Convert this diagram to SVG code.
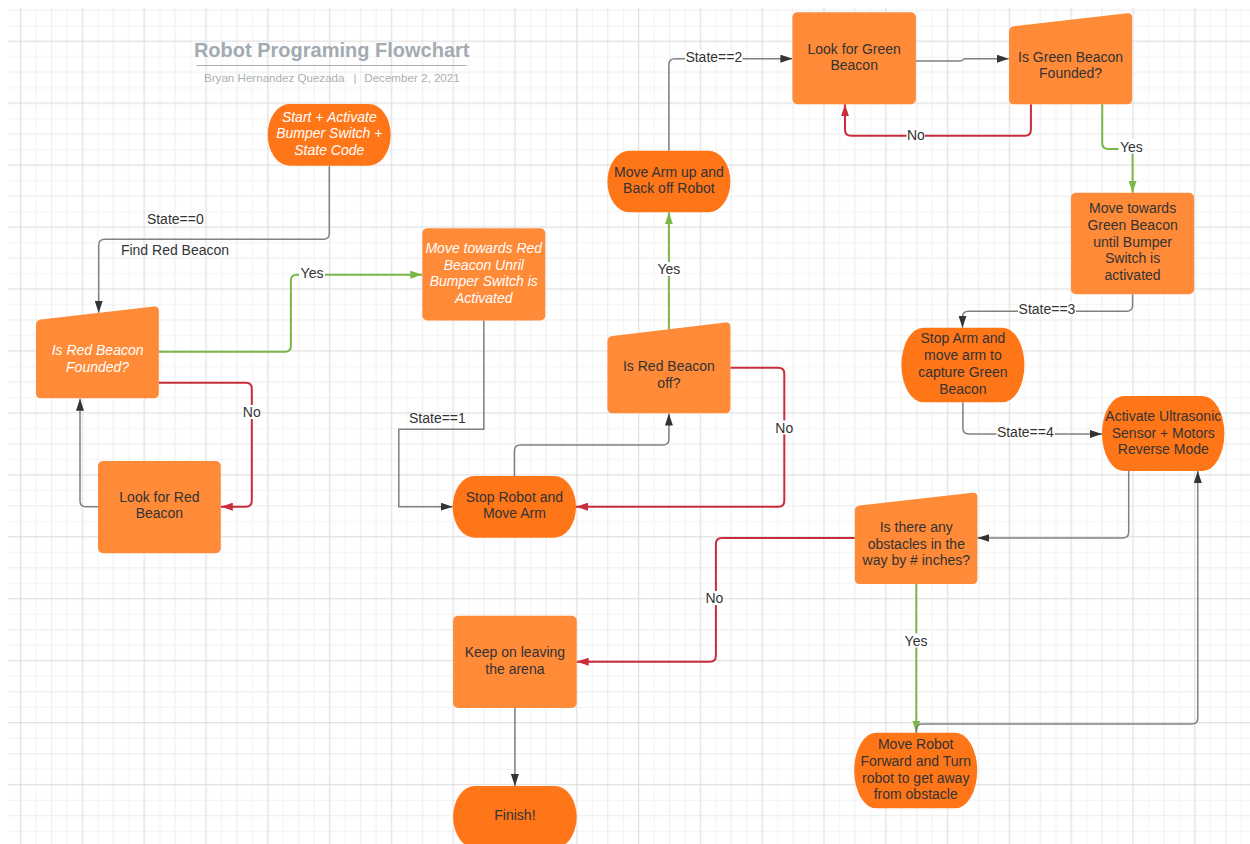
<svg xmlns="http://www.w3.org/2000/svg" width="1250" height="844" viewBox="0 0 1250 844">
<style>
.t{font-family:"Liberation Sans",Arial,sans-serif;font-size:14px;fill:#333;text-anchor:middle}
.w{fill:#fff;font-style:italic}
.box{fill:#FF8A38}
.term{fill:#FF7619}
.g{fill:none;stroke:#808080;stroke-width:1.5;marker-end:url(#ag)}
.r{fill:none;stroke:#C92D39;stroke-width:2;marker-end:url(#ar)}
.gr{fill:none;stroke:#7AB648;stroke-width:2;marker-end:url(#agr)}
.lb{fill:#fff}
</style>
<defs>
<pattern id="grid" patternUnits="userSpaceOnUse" x="12.975" y="33.56" width="61.8" height="61.95">
<path d="M23.175,0V61.95M54.075,0V61.95M0,23.23H61.8M0,54.21H61.8" stroke="#f2f2f2" stroke-width="1"/>
<path d="M38.625,0V61.95M0,38.72H61.8" stroke="#ececec" stroke-width="1"/>
<path d="M7.725,0V61.95M0,7.74H61.8" stroke="#dadada" stroke-width="1"/>
</pattern>
<marker id="ag" markerUnits="userSpaceOnUse" viewBox="0 0 12 8" markerWidth="12" markerHeight="8" refX="12" refY="4" orient="auto"><path d="M0,0L12,4L0,8z" fill="#333"/></marker>
<marker id="ar" markerUnits="userSpaceOnUse" viewBox="0 0 12 8" markerWidth="12" markerHeight="8" refX="12" refY="4" orient="auto"><path d="M0,0L12,4L0,8z" fill="#C92D39"/></marker>
<marker id="agr" markerUnits="userSpaceOnUse" viewBox="0 0 12 8" markerWidth="12" markerHeight="8" refX="12" refY="4" orient="auto"><path d="M0,0L12,4L0,8z" fill="#7AB648"/></marker>
</defs>
<rect width="1250" height="844" fill="#fff"/>
<rect x="8" y="8" width="1242" height="836" fill="url(#grid)"/>

<g id="title">
<text x="331.7" y="57" style="font-family:'Liberation Sans',Arial,sans-serif;font-size:20px;font-weight:bold;fill:#A2AAB2" text-anchor="middle">Robot Programing Flowchart</text>
<line x1="196.5" y1="65.5" x2="466.7" y2="65.5" stroke="#A9B0B8" stroke-width="1"/>
<g style="font-family:'Liberation Sans',Arial,sans-serif;font-size:11.6px;fill:#A9B0B6">
<text x="204" y="82">Bryan Hernandez Quezada</text>
<text x="355" y="82" text-anchor="middle">|</text>
<text x="364.3" y="82">December 2, 2021</text>
</g>
</g>

<g id="connectors">
<path class="g" d="M329.3,166 V233.3 Q329.3,239.3 323.3,239.3 H104.7 Q98.7,239.3 98.7,245.3 V312.8"/>
<path class="gr" d="M158.8,351.7 H284.9 Q290.9,351.7 290.9,345.7 V280.7 Q290.9,274.7 296.9,274.7 H422.3"/>
<path class="r" d="M158.8,382.7 H245.8 Q251.8,382.7 251.8,388.7 V500.7 Q251.8,506.7 245.8,506.7 H220.8"/>
<path class="g" d="M98,506.7 H86 Q80,506.7 80,500.7 V398.8"/>
<path class="g" d="M483.8,320.5 V429.3 H398.8 V506.7 H452.7"/>
<path class="g" d="M514.4,476 V451 Q514.4,445 520.4,445 H662.9 Q668.9,445 668.9,439 V413.5"/>
<path class="r" d="M730.4,367.7 H778.3 Q784.3,367.7 784.3,373.7 V500.7 Q784.3,506.7 778.3,506.7 H576"/>
<path class="gr" d="M668.9,329.3 V212.3"/>
<path class="g" d="M668.9,150.7 V64.7 Q668.9,58.7 674.9,58.7 H792.4"/>
<path class="g" d="M915.9,61 H960.5 Q962,61 962.6,59.9 Q963.2,58.7 964.7,58.7 H1008.8"/>
<path class="r" d="M1030.9,104.3 V129.7 Q1030.9,135.7 1024.9,135.7 H851 Q845,135.7 845,129.7 V104.3"/>
<path class="gr" d="M1102.2,104.3 V143 Q1102.2,149 1108.2,149 H1126.6 Q1132.6,149 1132.6,155 V192.7"/>
<path class="g" d="M1132.6,294.3 V305.3 Q1132.6,311.3 1126.6,311.3 H968.5 Q962.5,311.3 962.5,317.3 V327.7"/>
<path class="g" d="M962.9,402.3 V428 Q962.9,434 968.9,434 H1102"/>
<path class="g" d="M1128.7,471 V532 Q1128.7,538 1122.7,538 H977.4"/>
<path class="r" d="M854.8,538 H721.9 Q715.9,538 715.9,544 V655.7 Q715.9,661.7 709.9,661.7 H576.7"/>
<path class="gr" d="M916.3,584 V732.7"/>
<path class="g" d="M916.3,732.7 V730 Q916.3,724 922.3,724 H1191.8 Q1197.8,724 1197.8,718 V471"/>
<path class="g" d="M514.9,708 V786"/>
<rect class="lb" x="299" y="266" width="26" height="14"/>
<rect class="lb" x="242.5" y="405" width="18.5" height="14"/>
<rect class="lb" x="775" y="420.5" width="18.5" height="14"/>
<rect class="lb" x="656.5" y="262" width="25" height="14"/>
<rect class="lb" x="685" y="50" width="57.5" height="14"/>
<rect class="lb" x="906.5" y="128" width="18.5" height="14"/>
<rect class="lb" x="1118.5" y="139.5" width="26" height="14"/>
<rect class="lb" x="1018" y="302" width="58" height="14"/>
<rect class="lb" x="996.5" y="425" width="58" height="14"/>
<rect class="lb" x="705" y="591" width="18.5" height="14"/>
<rect class="lb" x="903.5" y="633.5" width="25" height="14"/>
<text class="t" x="175.3" y="224">State==0</text>
<text class="t" x="175" y="255">Find Red Beacon</text>
<text class="t" x="312" y="278">Yes</text>
<text class="t" x="251.8" y="417.3">No</text>
<text class="t" x="437.4" y="423.3">State==1</text>
<text class="t" x="784.3" y="432.7">No</text>
<text class="t" x="668.9" y="274.3">Yes</text>
<text class="t" x="713.8" y="62.3">State==2</text>
<text class="t" x="915.9" y="140">No</text>
<text class="t" x="1131.3" y="151.7">Yes</text>
<text class="t" x="1047" y="314">State==3</text>
<text class="t" x="1025.3" y="437.3">State==4</text>
<text class="t" x="714.4" y="603.3">No</text>
<text class="t" x="916" y="645.7">Yes</text>
</g>

<g id="start">
<rect class="term" x="267.7" y="104" width="123" height="61.7" rx="22" ry="30.85"/>
<text class="t w" x="329.3" y="121.7">Start + Activate</text>
<text class="t w" x="329.3" y="138.3">Bumper Switch +</text>
<text class="t w" x="329.3" y="155">State Code</text>
</g>

<g id="is-red-founded">
<path class="box" d="M36,325 Q36,320 41,319.43 L153.8,306.57 Q158.8,306 158.8,311 L158.8,393.3 Q158.8,398.3 153.8,398.3 L41,398.3 Q36,398.3 36,393.3 Z"/>
<text class="t w" x="97.6" y="355.3">Is Red Beacon</text>
<text class="t w" x="97.6" y="372">Founded?</text>
</g>

<g id="look-red">
<rect class="box" x="98" y="461" width="122.8" height="92.3" rx="5"/>
<text class="t" x="159.4" y="502">Look for Red</text>
<text class="t" x="159.4" y="518.3">Beacon</text>
</g>

<g id="move-red">
<rect class="box" x="422.3" y="228.3" width="123" height="92.2" rx="5"/>
<text class="t w" x="483.8" y="253">Move towards Red</text>
<text class="t w" x="483.8" y="269.5">Beacon Unril</text>
<text class="t w" x="483.8" y="286">Bumper Switch is</text>
<text class="t w" x="483.8" y="302.5">Activated</text>
</g>

<g id="stop-robot">
<rect class="term" x="452.7" y="476" width="123.3" height="61.7" rx="22" ry="30.85"/>
<text class="t" x="514.4" y="502">Stop Robot and</text>
<text class="t" x="514.4" y="518.3">Move Arm</text>
</g>

<g id="is-red-off">
<path class="box" d="M607.4,341.7 Q607.4,336.7 612.4,336.1 L725.4,322.6 Q730.4,322 730.4,327 L730.4,408.3 Q730.4,413.3 725.4,413.3 L612.4,413.3 Q607.4,413.3 607.4,408.3 Z"/>
<text class="t" x="668.9" y="371">Is Red Beacon</text>
<text class="t" x="668.9" y="387.7">off?</text>
</g>

<g id="move-arm-up">
<rect class="term" x="607.4" y="150.7" width="123" height="61.6" rx="22" ry="30.8"/>
<text class="t" x="668.9" y="176.7">Move Arm up and</text>
<text class="t" x="668.9" y="193.3">Back off Robot</text>
</g>

<g id="look-green">
<rect class="box" x="792.4" y="12.3" width="123.5" height="92" rx="5"/>
<text class="t" x="854.2" y="53.7">Look for Green</text>
<text class="t" x="854.2" y="70.3">Beacon</text>
</g>

<g id="is-green-founded">
<path class="box" d="M1009,31.7 Q1009,26.7 1014,26.13 L1127.1,13.27 Q1132.1,12.7 1132.1,17.7 L1132.1,99.3 Q1132.1,104.3 1127.1,104.3 L1014,104.3 Q1009,104.3 1009,99.3 Z"/>
<text class="t" x="1070.6" y="62">Is Green Beacon</text>
<text class="t" x="1070.6" y="78.3">Founded?</text>
</g>

<g id="move-green">
<rect class="box" x="1071" y="192.7" width="123.1" height="101.6" rx="5"/>
<text class="t" x="1132.6" y="213">Move towards</text>
<text class="t" x="1132.6" y="229.8">Green Beacon</text>
<text class="t" x="1132.6" y="246.5">until Bumper</text>
<text class="t" x="1132.6" y="263.3">Switch is</text>
<text class="t" x="1132.6" y="280">activated</text>
</g>

<g id="stop-arm">
<rect class="term" x="901.4" y="327.7" width="123" height="74.6" rx="22" ry="37.3"/>
<text class="t" x="962.9" y="343.3">Stop Arm and</text>
<text class="t" x="962.9" y="360">move arm to</text>
<text class="t" x="962.9" y="377">capture Green</text>
<text class="t" x="962.9" y="393.7">Beacon</text>
</g>

<g id="activate">
<rect class="term" x="1102" y="396" width="122.4" height="75" rx="22" ry="37.5"/>
<text class="t" x="1163.3" y="421">Activate Ultrasonic</text>
<text class="t" x="1163.3" y="437.7">Sensor + Motors</text>
<text class="t" x="1163.3" y="454.3">Reverse Mode</text>
</g>

<g id="is-obstacle">
<path class="box" d="M854.8,511 Q854.8,506 859.8,505.44 L972.4,492.86 Q977.4,492.3 977.4,497.3 L977.4,579 Q977.4,584 972.4,584 L859.8,584 Q854.8,584 854.8,579 Z"/>
<text class="t" x="916.3" y="532">Is there any</text>
<text class="t" x="916.3" y="548.7">obstacles in the</text>
<text class="t" x="916.3" y="565.4">way by # inches?</text>
</g>

<g id="keep-leaving">
<rect class="box" x="453.1" y="615.7" width="123.6" height="92.3" rx="5"/>
<text class="t" x="514.9" y="657.3">Keep on leaving</text>
<text class="t" x="514.9" y="673.7">the arena</text>
</g>

<g id="move-robot">
<rect class="term" x="854.2" y="732.7" width="123" height="75.6" rx="22" ry="37.8"/>
<text class="t" x="915.7" y="749">Move Robot</text>
<text class="t" x="915.7" y="765.8">Forward and Turn</text>
<text class="t" x="915.7" y="782.5">robot to get away</text>
<text class="t" x="915.7" y="799.3">from obstacle</text>
</g>

<g id="finish">
<rect class="term" x="453.1" y="786" width="123.6" height="62" rx="22" ry="31"/>
<text class="t" x="514.9" y="820.3">Finish!</text>
</g>
</svg>
